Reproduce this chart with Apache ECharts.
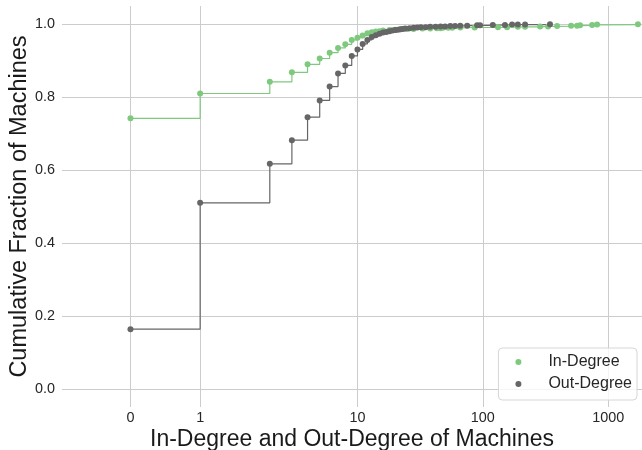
<!DOCTYPE html>
<html>
<head>
<meta charset="utf-8">
<script src="https://cdn.jsdelivr.net/npm/echarts@6/dist/echarts.min.js"></script>
<style>html,body{margin:0;padding:0;background:#fff}#c{width:642px;height:450px}</style>
</head>
<body>
<div id="c"></div>
<script>
// In-Degree CDF
const inDegree = [0,1,2,3,4,5,6,7,8,9,10,11,12,13,14,15,16,18,20,22,25,28,33,38,43,46,48,53,57,66,86,132,156,190,217,286,331,391,505,564,596,743,814,1724];
const inFraction = [0.742,0.810,0.842,0.868,0.890,0.906,0.922,0.935,0.945,0.957,0.963,0.969,0.975,0.978,0.980,0.981,0.983,0.984,0.985,0.986,0.987,0.987,0.988,0.988,0.989,0.989,0.990,0.990,0.990,0.991,0.991,0.992,0.992,0.993,0.993,0.994,0.994,0.995,0.996,0.996,0.997,0.998,0.999,1.0];
// Out-Degree CDF
const outDegree = [0,1,2,3,4,5,6,7,8,9,10,11,12,13,14,15,16,17,18,19,20,21,22,23,24,26,28,30,32,35,38,42,46,50,55,60,66,75,90,95,120,150,171,190,217,343];
const outFraction = [0.1635,0.510,0.617,0.682,0.745,0.791,0.829,0.865,0.887,0.913,0.931,0.946,0.957,0.965,0.970,0.974,0.977,0.979,0.981,0.983,0.984,0.985,0.986,0.987,0.988,0.989,0.990,0.991,0.992,0.992,0.993,0.993,0.994,0.994,0.995,0.995,0.996,0.996,0.997,0.997,0.998,0.998,0.999,0.999,0.999,1.0];

const xTickValues = [0,1,10,100,1000];
const xTickLabels = ['0','1','10','100','1000'];
const yTickValues = [0,0.2,0.4,0.6,0.8,1.0];

// symmetric-log transform (linear below 2, logarithmic above)
const LIN = 2, LINSCALE = 1/0.9;
function symlog(x){ return x <= LIN ? x*LINSCALE/LIN : LINSCALE + Math.log10(x/LIN); }

const xTicksT = xTickValues.map(symlog);
const font = "'Liberation Sans', Arial, sans-serif";
const green = '#7fc97f', grey = '#666666';

const chart = echarts.init(document.getElementById('c'), null, {renderer:'canvas'});
chart.setOption({
  animation: false,
  backgroundColor: '#ffffff',
  textStyle: {fontFamily: font},
  grid: {left: 62, right: 0, top: 6, bottom: 43, containLabel: false, outerBoundsMode: 'none'},
  xAxis: {
    type: 'value', min: -0.546, max: 4.079,
    axisLine: {show: false},
    axisTick: {show: false, customValues: xTicksT},
    axisLabel: {
      customValues: xTicksT, margin: 4, fontSize: 14.4, color: '#262626', fontFamily: font,
      formatter: function(v){ for (let i=0;i<xTicksT.length;i++){ if (Math.abs(xTicksT[i]-v)<1e-6) return xTickLabels[i]; } return ''; }
    },
    splitLine: {show: true, lineStyle: {color: '#cccccc', width: 1}},
    name: 'In-Degree and Out-Degree of Machines', nameLocation: 'middle', nameGap: 21, nameMoveOverlap: false,
    nameTextStyle: {fontSize: 23, color: '#1a1a1a', fontFamily: font}
  },
  yAxis: {
    type: 'value', min: -0.05, max: 1.05,
    axisLine: {show: false},
    axisTick: {show: false, customValues: yTickValues},
    axisLabel: {customValues: yTickValues, margin: 7, fontSize: 14.4, color: '#262626', fontFamily: font,
      formatter: v => v.toFixed(1)},
    splitLine: {show: true, lineStyle: {color: '#cccccc', width: 1}},
    name: 'Cumulative Fraction of Machines', nameLocation: 'middle', nameGap: 30, nameMoveOverlap: false,
    nameTextStyle: {fontSize: 23.5, color: '#1a1a1a', fontFamily: font}
  },
  legend: {
    data: ['In-Degree','Out-Degree'], orient: 'vertical', right: 5, bottom: 50,
    icon: 'circle', itemWidth: 8, itemHeight: 6, itemGap: 4,
    textStyle: {fontSize: 16, lineHeight: 18, color: '#262626', fontFamily: font, padding: [0,0,0,21]},
    borderColor: '#d6d6d6', borderWidth: 1, borderRadius: 4, padding: [5,5,7,17],
    backgroundColor: 'rgba(255,255,255,0.8)'
  },
  series: [
    {name: 'In-Degree', type: 'line', step: 'end', symbol: 'circle', symbolSize: 6, showAllSymbol: true,
     color: green, lineStyle: {width: 1.2, color: green}, itemStyle: {color: green},
     data: inDegree.map((d,i)=>[symlog(d), inFraction[i]])},
    {name: 'Out-Degree', type: 'line', step: 'end', symbol: 'circle', symbolSize: 6, showAllSymbol: true,
     color: grey, lineStyle: {width: 1.2, color: grey}, itemStyle: {color: grey},
     data: outDegree.map((d,i)=>[symlog(d), outFraction[i]])}
  ]
});
</script>
</body>
</html>
